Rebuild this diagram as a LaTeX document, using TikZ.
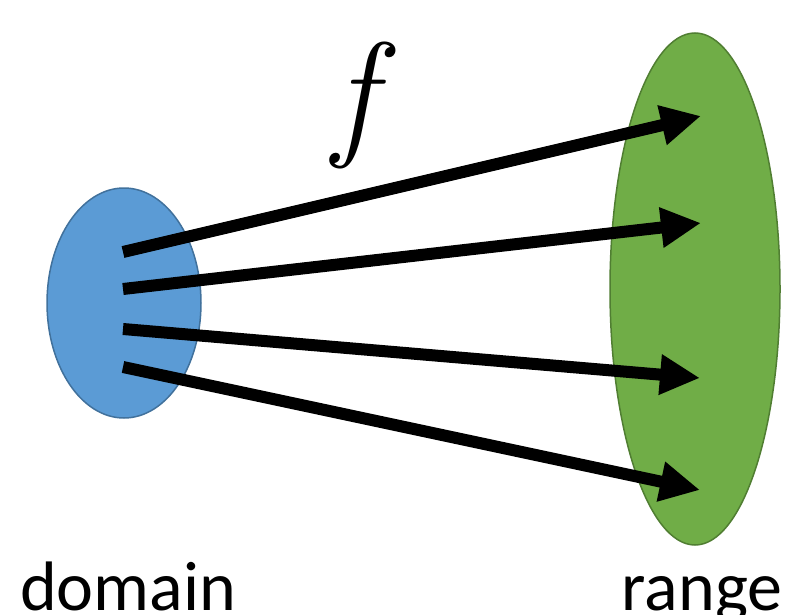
\documentclass[tikz,border=0pt]{standalone}
\usepackage{fontspec}
\setsansfont{Carlito}
\usetikzlibrary{arrows.meta}
\definecolor{dombl}{HTML}{5B9BD5}
\definecolor{domed}{HTML}{41719C}
\definecolor{rngg}{HTML}{70AD47}
\definecolor{rnged}{HTML}{507E32}
\begin{document}
\begin{tikzpicture}[x=1pt,y=-1pt,
  maparrow/.style={line width=12pt,-{Triangle[length=40pt,width=38pt]}},
  lbl/.style={font=\sffamily\fontsize{70}{70}\selectfont,anchor=base,inner sep=0pt}]
\useasboundingbox (0,0) rectangle (800,615);
\draw[fill=rngg,draw=rnged,line width=1.5pt] (695,289) ellipse [x radius=85, y radius=256];
\draw[fill=dombl,draw=domed,line width=1.5pt] (124,303) ellipse [x radius=77, y radius=115];
\coordinate (s1) at (123,252);
\coordinate (s2) at (123,289);
\coordinate (s3) at (123,329);
\coordinate (s4) at (123,367);
\coordinate (e1) at (701,116);
\coordinate (e2) at (701,223);
\coordinate (e3) at (700,378);
\coordinate (e4) at (700,490);
\draw[maparrow] (s1) -- (e1);
\draw[maparrow] (s2) -- (e2);
\draw[maparrow] (s3) -- (e3);
\draw[maparrow] (s4) -- (e4);
\node[inner sep=0pt,anchor=base] (f) at (354,140) {\rmfamily\itshape\fontsize{140}{140}\selectfont f};
\node[lbl] (dom) at (128,610) {domain};
\node[lbl] (rng) at (702,610) {range};
\end{tikzpicture}
\end{document}
